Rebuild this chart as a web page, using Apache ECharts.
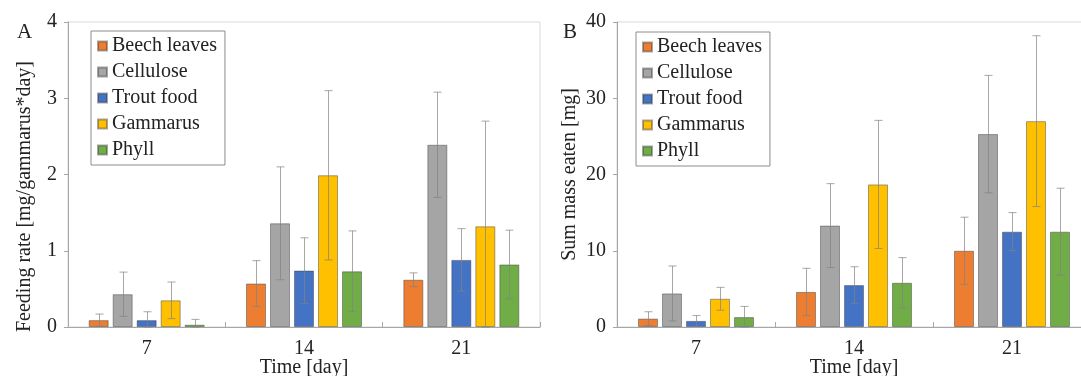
<!DOCTYPE html>
<html>
<head>
<meta charset="utf-8">
<script src="https://cdn.jsdelivr.net/npm/echarts@6/dist/echarts.min.js"></script>
<style>
html,body{margin:0;padding:0;background:#fff;}
#chart{width:1081px;height:376px;}
</style>
</head>
<body>
<div id="chart"></div>
<script>
// ---- data ----
const categories = ['7', '14', '21'];
const seriesNames = ['Beech leaves', 'Cellulose', 'Trout food', 'Gammarus', 'Phyll'];
const seriesColors = ['#ED7D31', '#A5A5A5', '#4472C4', '#FFC000', '#70AD47'];

// Panel A: feeding rate [mg/gammarus*day]
const rateBeech     = [0.09, 0.57, 0.62];
const rateCellulose = [0.43, 1.36, 2.39];
const rateTrout     = [0.09, 0.74, 0.88];
const rateGammarus  = [0.35, 1.99, 1.32];
const ratePhyll     = [0.03, 0.73, 0.82];
const rateBeechErr     = [0.08, 0.30, 0.09];
const rateCelluloseErr = [0.29, 0.74, 0.69];
const rateTroutErr     = [0.11, 0.43, 0.41];
const rateGammarusErr  = [0.24, 1.11, 1.38];
const ratePhyllErr     = [0.07, 0.53, 0.45];

// Panel B: sum mass eaten [mg]
const massBeech     = [1.1, 4.6, 10.0];
const massCellulose = [4.4, 13.3, 25.3];
const massTrout     = [0.8, 5.5, 12.5];
const massGammarus  = [3.7, 18.7, 27.0];
const massPhyll     = [1.3, 5.8, 12.5];
const massBeechErr     = [0.9, 3.1, 4.4];
const massCelluloseErr = [3.6, 5.5, 7.7];
const massTroutErr     = [0.7, 2.4, 2.5];
const massGammarusErr  = [1.5, 8.4, 11.2];
const massPhyllErr     = [1.4, 3.3, 5.7];

const yTicksA = [0, 1, 2, 3, 4];
const yTicksB = [0, 10, 20, 30, 40];

// ---- build ----
const rateMeans = [rateBeech, rateCellulose, rateTrout, rateGammarus, ratePhyll];
const rateErrs = [rateBeechErr, rateCelluloseErr, rateTroutErr, rateGammarusErr, ratePhyllErr];
const massMeans = [massBeech, massCellulose, massTrout, massGammarus, massPhyll];
const massErrs = [massBeechErr, massCelluloseErr, massTroutErr, massGammarusErr, massPhyllErr];

const FONT = "'Liberation Serif', serif";
const TXT = '#222';
const BAR_W = 20, BAR_GAP = 4;
const LEG_TEXT = { fontFamily: FONT, fontSize: 20, color: TXT, fontWeight: 'normal', fontStyle: 'normal' };

function barSeries(means, gi) {
  return means.map((vals, i) => ({
    name: seriesNames[i],
    type: 'bar',
    xAxisIndex: gi, yAxisIndex: gi,
    data: vals,
    barWidth: BAR_W,
    barGap: (BAR_GAP / BAR_W * 100) + '%',
    itemStyle: { color: seriesColors[i], borderColor: 'rgba(60,60,60,0.45)', borderWidth: 1 },
    z: 2
  }));
}

function errSeries(means, errs, gi) {
  return means.map((vals, i) => ({
    name: 'err' + gi + '_' + i,
    type: 'custom',
    xAxisIndex: gi, yAxisIndex: gi,
    silent: true,
    z: 5,
    data: vals.map((v, k) => [k, Math.max(0, v - errs[i][k]), v + errs[i][k]]),
    encode: { x: 0, y: [1, 2] },
    renderItem: function (params, api) {
      const c = api.value(0);
      const lo = api.coord([c, api.value(1)]);
      const hi = api.coord([c, api.value(2)]);
      const x = Math.round(lo[0] + (i - 2) * (BAR_W + BAR_GAP)) + 0.5;
      const st = { stroke: 'rgba(130,130,130,0.7)', lineWidth: 1 };
      const cap = 4;
      return {
        type: 'group',
        children: [
          { type: 'line', shape: { x1: x, y1: lo[1], x2: x, y2: hi[1] }, style: st },
          { type: 'line', shape: { x1: x - cap, y1: hi[1], x2: x + cap, y2: hi[1] }, style: st },
          { type: 'line', shape: { x1: x - cap, y1: lo[1], x2: x + cap, y2: lo[1] }, style: st }
        ]
      };
    }
  }));
}

function xAxisCfg(gi) {
  return {
    type: 'category', gridIndex: gi, data: categories,
    name: 'Time [day]', nameLocation: 'middle', nameGap: 31, nameMoveOverlap: false,
    nameTextStyle: { fontFamily: FONT, fontSize: 20, color: TXT },
    axisLine: { lineStyle: { color: '#a6a6a6', width: 1 } },
    axisTick: { show: true, inside: true, length: 5, lineStyle: { color: '#a6a6a6' } },
    axisLabel: { fontFamily: FONT, fontSize: 20, color: TXT, margin: 12 },
    splitLine: { show: false }
  };
}

function yAxisCfg(gi, ticks, name, gap, pad) {
  return {
    type: 'value', gridIndex: gi,
    min: ticks[0], max: ticks[ticks.length - 1], interval: ticks[1] - ticks[0],
    name: name, nameLocation: 'middle', nameGap: gap, nameRotate: 90, nameMoveOverlap: false,
    nameTextStyle: { fontFamily: FONT, fontSize: 20, color: TXT, padding: pad },
    axisLine: { show: true, lineStyle: { color: '#a6a6a6', width: 1 } },
    axisTick: { show: true, length: 4, lineStyle: { color: '#a6a6a6' } },
    axisLabel: { fontFamily: FONT, fontSize: 20, color: TXT, margin: 11 },
    splitLine: { show: false }
  };
}

function legendCfg(left, top) {
  return {
    data: seriesNames.map(n => ({ name: n, textStyle: LEG_TEXT })),
    orient: 'vertical',
    left: left, top: top,
    icon: 'rect', itemWidth: 9, itemHeight: 9, itemGap: 6,
    padding: [5, 8, 5, 6],
    borderColor: '#8c8c8c', borderWidth: 1,
    backgroundColor: '#fff',
    textStyle: Object.assign({ lineHeight: 20 }, LEG_TEXT),
    selectedMode: false
  };
}

const option = {
  animation: false,
  backgroundColor: '#fff',
  textStyle: { fontFamily: FONT },
  title: [
    { text: 'A', left: 12, top: 17, textStyle: { fontFamily: FONT, fontSize: 21, fontWeight: 'normal', color: TXT } },
    { text: 'B', left: 558, top: 17, textStyle: { fontFamily: FONT, fontSize: 21, fontWeight: 'normal', color: TXT } }
  ],
  grid: [
    { left: 68, right: 541, top: 22, bottom: 49, show: true, borderColor: '#d9d9d9', borderWidth: 1, outerBoundsMode: 'none', containLabel: false },
    { left: 617, right: -10, top: 22, bottom: 49, show: true, borderColor: '#d9d9d9', borderWidth: 1, outerBoundsMode: 'none', containLabel: false }
  ],
  legend: [legendCfg(91, 31), legendCfg(636, 32)],
  xAxis: [xAxisCfg(0), xAxisCfg(1)],
  yAxis: [
    yAxisCfg(0, yTicksA, 'Feeding rate [mg/gammarus*day]', 33, [0, 44, 0, 0]),
    yAxisCfg(1, yTicksB, 'Sum mass eaten [mg]', 37, [0, 0, 0, 0])
  ],
  series: [].concat(
    barSeries(rateMeans, 0),
    barSeries(massMeans, 1),
    errSeries(rateMeans, rateErrs, 0),
    errSeries(massMeans, massErrs, 1)
  )
};

const chart = echarts.init(document.getElementById('chart'), null, { renderer: 'canvas' });
chart.setOption(option);
</script>
</body>
</html>
